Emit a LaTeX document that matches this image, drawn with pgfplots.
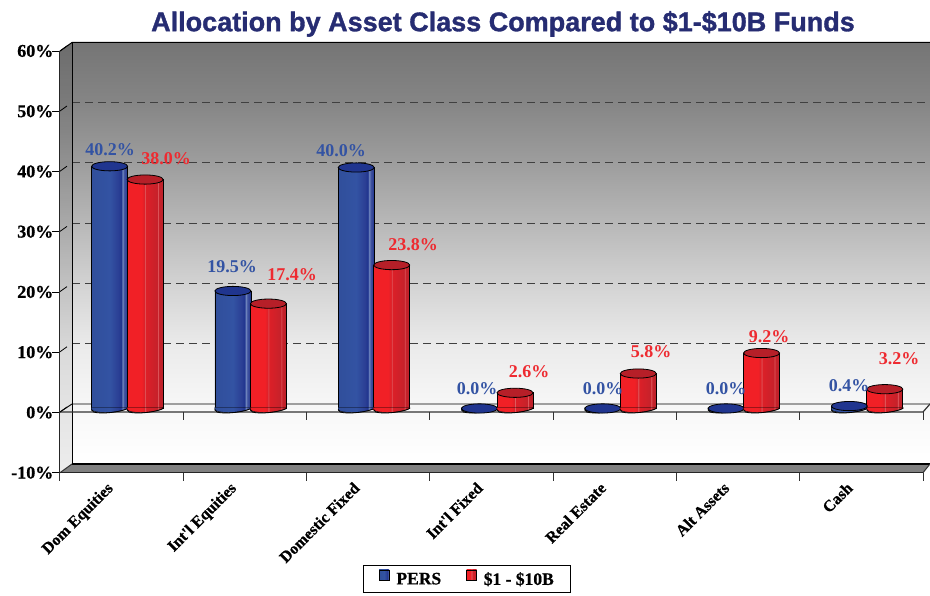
\documentclass[border=0pt]{standalone}
\usepackage{pgfplots}
\usepackage{pgfplotstable}
\pgfplotsset{compat=1.18}
\usepackage{fontspec}
\setmainfont{Liberation Serif}
\newfontfamily\titlefont[BoldFeatures={FakeBold=1.2}]{Liberation Sans}
\newfontfamily\tickfont[BoldFeatures={FakeBold=0.7}]{Liberation Serif}
\definecolor{lblue}{HTML}{3353A3}
\definecolor{lred}{HTML}{EE2A30}
\definecolor{ttl}{HTML}{262C72}
\definecolor{bluetop}{HTML}{20358F}
\definecolor{redtop}{HTML}{B61F28}
\definecolor{r1}{HTML}{F12026}\definecolor{r2}{HTML}{DC2028}\definecolor{r3}{HTML}{C6212A}
\definecolor{r4}{HTML}{BC222B}\definecolor{rs}{HTML}{DF5A5E}
\pgfdeclarehorizontalshading{bluecyl}{100bp}{
 color(0bp)=(lblue!95!black); color(25bp)=(lblue!95!black); color(50bp)=(lblue); color(62bp)=(bluetop!95!white);
 color(66bp)=(bluetop); color(68bp)=(lblue!70!white); color(70bp)=(bluetop!85!white); color(75bp)=(bluetop); color(100bp)=(bluetop)}
\pgfdeclarehorizontalshading{redcyl}{100bp}{
 color(0bp)=(r1); color(25bp)=(r1); color(45bp)=(r1); color(49bp)=(r2); color(50bp)=(rs); color(51bp)=(r2);
 color(67bp)=(r3); color(68bp)=(rs); color(69bp)=(r3); color(75bp)=(r4); color(100bp)=(r4)}
\definecolor{w1}{HTML}{757575}\definecolor{w2}{HTML}{858585}\definecolor{w3}{HTML}{A0A0A0}
\definecolor{w4}{HTML}{BABABA}\definecolor{w5}{HTML}{D4D4D4}\definecolor{w6}{HTML}{EBEBEB}
\definecolor{w7}{HTML}{F7F7F7}\definecolor{w8}{HTML}{FFFFFF}
\pgfdeclareverticalshading{wall}{100bp}{
 color(0bp)=(w8); color(25bp)=(w8); color(32bp)=(w7); color(39bp)=(w6); color(46bp)=(w5); color(53bp)=(w4); color(60bp)=(w3); color(68bp)=(w2); color(75bp)=(w1); color(100bp)=(w1)}
\pgfdeclareplotmark{bluecap}{\path[rotate=7,fill=bluetop,draw=black,line width=0.8pt] (0pt,0pt) ellipse [x radius=18pt,y radius=4.6pt];}
\pgfdeclareplotmark{redcap}{\path[rotate=7,fill=redtop,draw=black,line width=0.8pt] (0pt,0pt) ellipse [x radius=18pt,y radius=4.6pt];}
\pgfdeclareplotmark{bluebase}{\path[shading=bluecyl] (-18pt,1pt) -- (18pt,1pt) -- (18pt,0pt) .. controls (12pt,-3.5pt) and (-8pt,-6pt) .. (-18pt,-2pt) -- cycle;
 \draw[black,line width=0.8pt] (18pt,1pt) -- (18pt,0pt) .. controls (12pt,-3.5pt) and (-8pt,-6pt) .. (-16pt,-3.6pt) -- (-18pt,-1pt);}
\pgfdeclareplotmark{redbase}{\path[shading=redcyl] (-18pt,1pt) -- (18pt,1pt) -- (18pt,0pt) .. controls (12pt,-3.5pt) and (-8pt,-6pt) .. (-18pt,-2pt) -- cycle;
 \draw[black,line width=0.8pt] (18pt,1pt) -- (18pt,0pt) .. controls (12pt,-3.5pt) and (-8pt,-6pt) .. (-16pt,-3.6pt) -- (-18pt,-1pt);}
\pgfplotstableread{
x v
0.5 40.2
1.5 19.5
2.5 40.0
3.5 0.0
4.5 0.0
5.5 0.0
6.5 0.4
}\tblpers
\pgfplotstableread{
x v
0.5 38.0
1.5 17.4
2.5 23.8
3.5 2.6
4.5 5.8
5.5 9.2
6.5 3.2
}\tblfunds
\newcommand{\lbl}[4]{\node[text=#1,font=\fontsize{18pt}{20pt}\selectfont\bfseries,inner sep=0pt] at (#2,#3) {#4};}
\pgfplotsset{
 bluebar/.style={ybar,bar width=36pt,bar shift=0pt,xshift=-12pt,yshift=4pt,shading=bluecyl,draw=black,line width=0.8pt},
 redbar/.style={ybar,bar width=36pt,bar shift=0pt,xshift=23.5pt,yshift=4pt,shading=redcyl,draw=black,line width=0.8pt},
}
\begin{document}
\begin{tikzpicture}
\path[use as bounding box] (0,0) rectangle (930pt,596pt);
\begin{scope}[x=1pt,y=-1pt,yshift=596pt]
% side and back walls
\path[shading=wall] (60,51) -- (72,42.5) -- (72,464) -- (60,472.7) -- cycle;
\path[fill=black,opacity=0.07] (60,51) -- (72,42.5) -- (72,464) -- (60,472.7) -- cycle;
\path[shading=wall] (72,42.5) rectangle (930,464);
% gridlines
\foreach \yy in {343.5,283.3,223.1,162.9,102.7}
  \draw[black!75,line width=0.9pt,dash pattern=on 8pt off 5pt] (72,\yy) -- (930,\yy);
% floor
\path[fill=black!50] (60,472.7) -- (72,464) -- (930,464) -- (923,472.7) -- cycle;
\draw[black,line width=1.3pt] (72,464) -- (930,464);
\draw[black!80,line width=1pt] (60,472.7) -- (72,464);
\draw[black!80,line width=1pt] (923,472.7) -- (930,464);
% wall edges
\draw[black,line width=1pt] (60,51) -- (72,42.5) -- (930,42.5);
\draw[black,line width=1pt] (72,42.5) -- (72,464);
% zero plane
\draw[black,line width=0.9pt] (60,412) -- (72,404) -- (930,404);
\draw[black!80,line width=1.2pt] (60,412) -- (923,412) -- (930,404);
% tick stubs
\foreach \yy in {412,351.8,291.6,231.4,171.2,111,51}
  \draw[black,line width=0.8pt] (60,\yy) -- (67,\yy-5);
\foreach \xx in {183.3,306.6,429.9,553.1,676.4,799.7,923}
  \draw[black!80,line width=1pt] (\xx,412) -- (\xx,420);
\end{scope}
\begin{axis}[
  at={(60pt,123.3pt)},anchor=south west,scale only axis,
  width=863pt,height=421.7pt,
  xmin=0,xmax=7,ymin=-10,ymax=60,clip=false,
  axis x line*=bottom,axis y line*=left,
  axis line style={black!85,line width=1pt,-},
  xtick={0,1,2,3,4,5,6,7},xticklabels={},
  extra x ticks={0.5,1.5,2.5,3.5,4.5,5.5,6.5},
  extra x tick labels={Dom Equities,Int'l Equities,Domestic Fixed,Int'l Fixed,Real Estate,Alt Assets,Cash},
  extra x tick style={major tick length=0pt},
  major tick length=8pt,
  xtick style={black!80,line width=1pt},
  ytick={-10,0,10,20,30,40,50,60},
  ytick style={black,line width=0.8pt},
  tick align=outside,
  yticklabel={\pgfmathprintnumber{\tick}\%},
  /pgf/number format/assume math mode=true,
  tick label style={font=\tickfont\fontsize{18pt}{20pt}\selectfont\bfseries,text=black},
  y tick label style={inner sep=0pt,xshift=1.5pt},
  x tick label style={font=\tickfont\fontsize{16pt}{18pt}\selectfont\bfseries,rotate=45,anchor=north east,inner sep=0pt,xshift=-17pt,yshift=5.2pt},
  legend style={at={(0.472,-0.252)},anchor=center,legend columns=2,draw=black,line width=1pt,
    font=\tickfont\fontsize{17.5pt}{18pt}\selectfont\bfseries,inner xsep=15pt,inner ysep=4pt,
    /tikz/every odd column/.append style={column sep=5pt},
    /tikz/every even column/.append style={column sep=23pt}},
]
\addplot[bluebar,legend image code/.code={\draw[fill=lblue!90!black,draw=black,line width=0.6pt] (0pt,-4.5pt) rectangle (10pt,5.5pt);}] coordinates {(0.5,40.2)};
\addlegendentry{PERS}
\addplot[bluebar,forget plot] coordinates {(1.5,19.5)};
\addplot[bluebar,forget plot] coordinates {(2.5,40.0)};
\addplot[bluebar,forget plot] coordinates {(3.5,0.0)};
\addplot[bluebar,forget plot] coordinates {(4.5,0.0)};
\addplot[bluebar,forget plot] coordinates {(5.5,0.0)};
\addplot[bluebar,forget plot] coordinates {(6.5,0.4)};
\addplot[forget plot,only marks,xshift=-12pt,yshift=4pt,mark=bluebase] table[x=x,y expr=0] {\tblpers};
\addplot[forget plot,only marks,xshift=-12pt,yshift=4pt,mark=bluecap] table[x=x,y=v] {\tblpers};
\addplot[redbar,legend image code/.code={\draw[fill=r1,draw=black,line width=0.6pt] (0pt,-4.5pt) rectangle (10pt,5.5pt);}] coordinates {(0.5,38.0)};
\addlegendentry{\$1 - \$10B}
\addplot[redbar,forget plot] coordinates {(1.5,17.4)};
\addplot[redbar,forget plot] coordinates {(2.5,23.8)};
\addplot[redbar,forget plot] coordinates {(3.5,2.6)};
\addplot[redbar,forget plot] coordinates {(4.5,5.8)};
\addplot[redbar,forget plot] coordinates {(5.5,9.2)};
\addplot[redbar,forget plot] coordinates {(6.5,3.2)};
\addplot[forget plot,only marks,xshift=23.5pt,yshift=4pt,mark=redbase] table[x=x,y expr=0] {\tblfunds};
\addplot[forget plot,only marks,xshift=23.5pt,yshift=4pt,mark=redcap] table[x=x,y=v] {\tblfunds};
\end{axis}
\begin{scope}[x=1pt,y=-1pt,yshift=596pt]
\node[text=ttl,font=\titlefont\fontsize{27pt}{30pt}\selectfont\bfseries,inner sep=0pt] at (503,24) {Allocation by Asset Class Compared to \$1-\$10B Funds};
\lbl{lblue}{110}{150}{40.2\%}
\lbl{lred}{166}{159}{38.0\%}
\lbl{lblue}{232}{267}{19.5\%}
\lbl{lred}{292}{275}{17.4\%}
\lbl{lblue}{341}{151}{40.0\%}
\lbl{lred}{413}{245}{23.8\%}
\lbl{lblue}{477}{389}{0.0\%}
\lbl{lred}{529}{372}{2.6\%}
\lbl{lblue}{603}{389}{0.0\%}
\lbl{lred}{651}{352}{5.8\%}
\lbl{lblue}{726}{389}{0.0\%}
\lbl{lred}{769}{337}{9.2\%}
\lbl{lblue}{849}{386}{0.4\%}
\lbl{lred}{899}{359}{3.2\%}
\end{scope}
\end{tikzpicture}
\end{document}
